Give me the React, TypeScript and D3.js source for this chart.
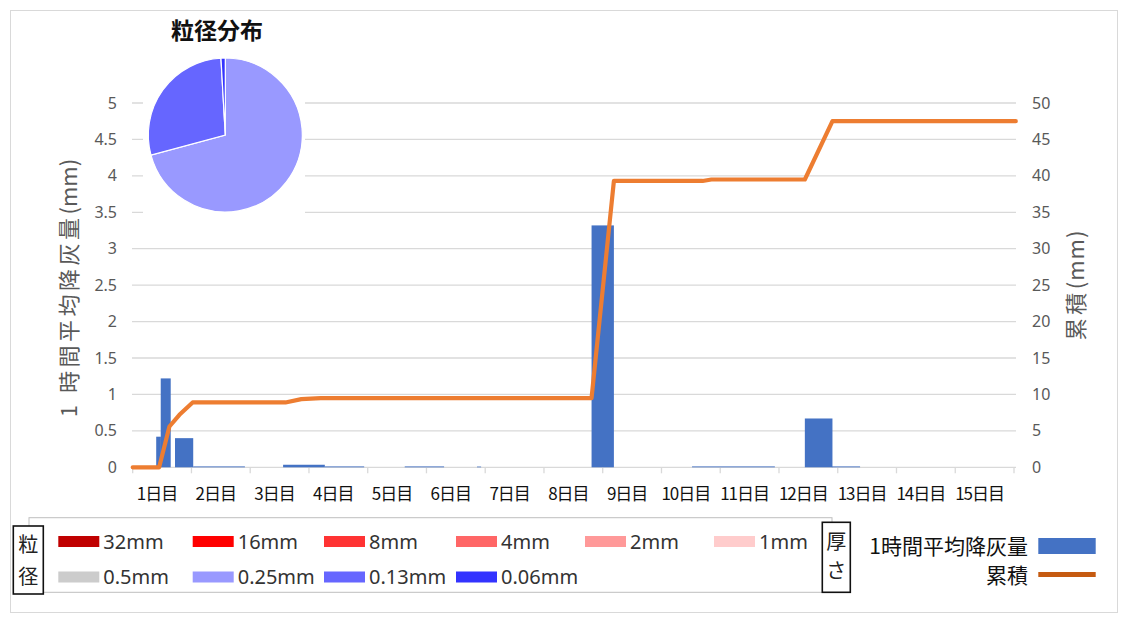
import React from "react";
import * as d3 from "d3";

// ---- data ----
const dayLabels = ["1日目","2日目","3日目","4日目","5日目","6日目","7日目","8日目","9日目","10日目","11日目","12日目","13日目","14日目","15日目"];
const leftTicks = [0, 0.5, 1, 1.5, 2, 2.5, 3, 3.5, 4, 4.5, 5];
const leftTickLabels = ["0","0.5","1","1.5","2","2.5","3","3.5","4","4.5","5"];
const rightTicks = [0, 5, 10, 15, 20, 25, 30, 35, 40, 45, 50];

// hourly-average ashfall bars: interval start/end (days since start) and rate (mm/h)
const barStart = [0.40, 0.477, 0.72, 1.03, 2.56, 3.27, 4.63, 5.86, 7.81, 9.52, 11.44, 11.90];
const barEnd   = [0.48, 0.647, 1.03, 1.91, 3.27, 3.94, 5.30, 5.93, 8.19, 10.93, 11.91, 12.38];
const barRate  = [0.42, 1.22, 0.40, 0.012, 0.035, 0.012, 0.012, 0.01, 3.32, 0.012, 0.67, 0.012];

// cumulative thickness line
const cumDay = [0, 0.45, 0.625, 0.795, 1.02, 2.6, 2.87, 3.2, 7.81, 8.19, 9.7, 9.85, 11.44, 11.91, 15.03];
const cumMm  = [0, 0, 5.6, 7.2, 8.9, 8.9, 9.35, 9.5, 9.5, 39.3, 39.3, 39.5, 39.5, 47.5, 47.5];

// particle size distribution (pie)
const sizeClasses = ["32mm","16mm","8mm","4mm","2mm","1mm","0.5mm","0.25mm","0.13mm","0.06mm"];
const sizeShare   = [0, 0, 0, 0, 0, 0, 0, 70.8, 28.3, 0.9];
const sizeColors  = ["#c00000","#ff0000","#ff3333","#ff6666","#ff9999","#ffcccc","#cccccc","#9999ff","#6666ff","#3333ff"];

const seriesNames = ["1時間平均降灰量", "累積"];

const JP = "'Noto Sans CJK JP', 'Noto Sans', sans-serif";
const NUM = "'Noto Sans', 'Open Sans', sans-serif";

export default function App() {
  const W = 1126, H = 621;
  const x = d3.scaleLinear().domain([0, 15]).range([132.7, 1014]);
  const yL = d3.scaleLinear().domain([0, 5]).range([467.3, 103]);
  const yR = d3.scaleLinear().domain([0, 50]).range([467.3, 103]);
  const gridColor = "#d9d9d9";
  const axisText = "#595959";

  const line = d3.line<number>().x((_, i) => x(cumDay[i])).y((d) => yR(d));

  const pieData = d3.pie<number>().sort(null).value((d) => d)(sizeShare);
  const arc = d3.arc<d3.PieArcDatum<number>>().innerRadius(0).outerRadius(77);
  const pieCx = 225.3, pieCy = 135;

  const legendCols = [58.3, 192.7, 324, 456, 585, 714];
  const legendRows = [541.5, 577];

  return (
    <svg width={W} height={H} style={{ position: "absolute", left: 0, top: 0, background: "#fff" }}>
      <rect x={10.5} y={10.5} width={1107} height={602} fill="#fff" stroke="#d9d9d9" />

      {/* gridlines */}
      {leftTicks.slice(1).map((t) => (
        <line key={t} x1={132} x2={1016} y1={yL(t)} y2={yL(t)} stroke={gridColor} strokeWidth={1.3} />
      ))}
      {/* x axis */}
      <line x1={132} x2={1016} y1={yL(0)} y2={yL(0)} stroke={gridColor} strokeWidth={1.3} />
      {d3.range(16).map((i) => (
        <line key={i} x1={x(i)} x2={x(i)} y1={yL(0)} y2={yL(0) + 6} stroke={gridColor} strokeWidth={1.3} />
      ))}
      {dayLabels.map((d, i) => (
        <text key={d} x={x(i + 0.5) - 5} y={500} textAnchor="middle" fontFamily={JP} fontSize={17} fill="#111" letterSpacing={-1}>
          {d}
        </text>
      ))}

      {/* left axis labels */}
      {leftTicks.map((t, i) => (
        <text key={t} x={117} y={yL(t) + 5.5} textAnchor="end" fontFamily={NUM} fontSize={16} fill={axisText}>
          {leftTickLabels[i]}
        </text>
      ))}
      <text transform={`translate(77,288) rotate(-90)`} textAnchor="middle" fontFamily={JP} fontSize={22} fill={axisText}>
        <tspan letterSpacing={3.5}>1 時間平均降灰量</tspan>
        <tspan>(mm)</tspan>
      </text>

      {/* right axis labels */}
      {rightTicks.map((t) => (
        <text key={t} x={1032} y={yR(t) + 5.5} textAnchor="start" fontFamily={NUM} fontSize={16} fill={axisText}>
          {t}
        </text>
      ))}
      <text transform={`translate(1084,285) rotate(-90)`} textAnchor="middle" fontFamily={JP} fontSize={22} fill={axisText}>
        <tspan letterSpacing={3.5}>累積</tspan>
        <tspan letterSpacing={1}>(mm)</tspan>
      </text>

      {/* bars */}
      {barRate.map((v, i) => (
        <rect key={i} x={x(barStart[i])} width={x(barEnd[i]) - x(barStart[i])} y={yL(v)} height={yL(0) - yL(v)} fill="#4472c4" />
      ))}

      {/* cumulative line */}
      <path d={line(cumMm) || ""} fill="none" stroke="#ed7d31" strokeWidth={4.2} strokeLinejoin="round" strokeLinecap="round" />

      {/* embedded pie chart */}
      <rect x={143} y={12} width={162} height={208} fill="#fff" />
      <text x={217} y={39} textAnchor="middle" fontFamily={JP} fontSize={23} fontWeight="bold" fill="#111">
        粒径分布
      </text>
      <g transform={`translate(${pieCx},${pieCy})`}>
        {pieData.map((p, i) =>
          p.value > 0 ? (
            <path key={sizeClasses[i]} d={arc(p) || ""} fill={sizeColors[i]} stroke="#fff" strokeWidth={1.2} />
          ) : null
        )}
      </g>

      {/* size legend */}
      <rect x={29} y={517.7} width={803} height={74.6} fill="#fff" stroke="#bfbfbf" strokeWidth={1} />
      <rect x={13.3} y={526} width={30} height={68} fill="#fff" stroke="#111" strokeWidth={1.6} />
      <text x={28.3} y={552} textAnchor="middle" fontFamily={JP} fontSize={20} fill="#222">粒</text>
      <text x={28.3} y={584} textAnchor="middle" fontFamily={JP} fontSize={20} fill="#222">径</text>
      {sizeClasses.map((s, i) => {
        const row = i < 6 ? 0 : 1;
        const col = i < 6 ? i : i - 6;
        const sx = legendCols[col];
        const cy = legendRows[row];
        return (
          <g key={s}>
            <rect x={sx} y={cy - 5.5} width={41} height={11} fill={sizeColors[i]} />
            <text x={sx + 45} y={cy + 7} fontFamily={NUM} fontSize={20} fill="#333">{s}</text>
          </g>
        );
      })}

      {/* thickness legend */}
      <rect x={822.3} y={522.3} width={28} height={70} fill="#fff" stroke="#111" strokeWidth={1.6} />
      <text x={836.3} y={549} textAnchor="middle" fontFamily={JP} fontSize={20} fill="#222">厚</text>
      <text x={836.3} y={578} textAnchor="middle" fontFamily={JP} fontSize={20} fill="#222">さ</text>
      <text x={1028} y={553.5} textAnchor="end" fontFamily={JP} fontSize={21} fill="#111">{seriesNames[0]}</text>
      <rect x={1038.3} y={538} width={57.4} height={16} fill="#4472c4" />
      <text x={1028} y={582.5} textAnchor="end" fontFamily={JP} fontSize={21} fill="#111">{seriesNames[1]}</text>
      <line x1={1038.3} x2={1095.7} y1={574.5} y2={574.5} stroke="#c55a11" strokeWidth={5} />
    </svg>
  );
}
